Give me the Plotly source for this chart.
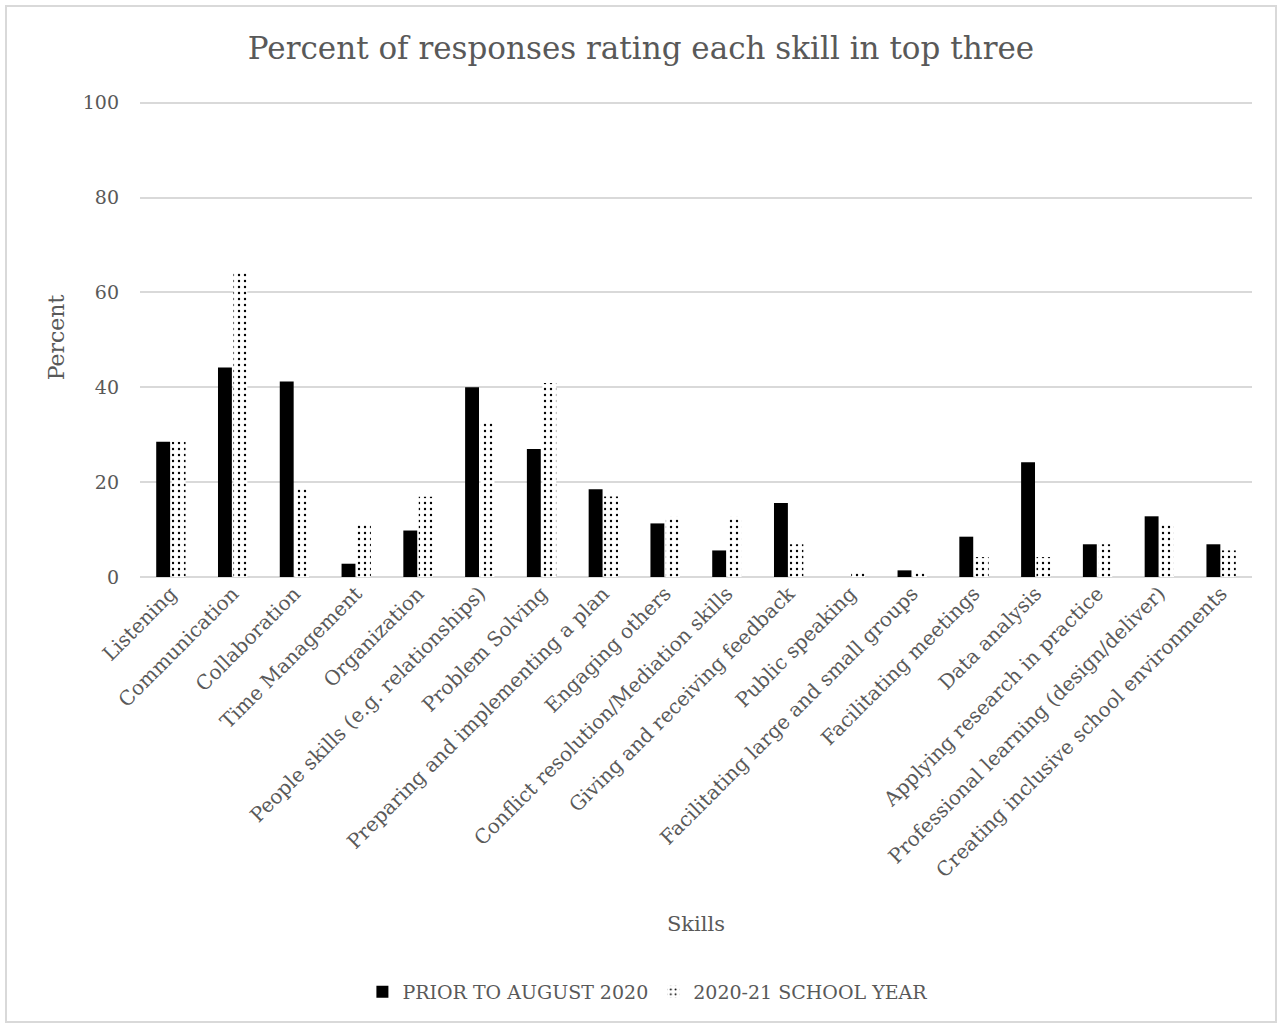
import plotly.graph_objects as go

skills = ["Listening", "Communication", "Collaboration", "Time Management", "Organization",
          "People skills (e.g. relationships)", "Problem Solving", "Preparing and implementing a plan",
          "Engaging others", "Conflict resolution/Mediation skills", "Giving and receiving feedback",
          "Public speaking", "Facilitating large and small groups", "Facilitating meetings",
          "Data analysis", "Applying research in practice", "Professional learning (design/deliver)",
          "Creating inclusive school environments"]
prior = [28.5, 44.2, 41.2, 2.8, 9.8, 40.0, 27.0, 18.5, 11.3, 5.6, 15.6, 0.0, 1.4, 8.5, 24.2, 6.9, 12.8, 6.9]
school_year = [28.5, 64.1, 18.6, 11.0, 16.9, 32.8, 40.9, 17.0, 12.7, 12.7, 6.9, 1.2, 1.2, 4.2, 4.2, 6.9, 11.0, 5.6]

FONT = "DejaVu Serif"
GREY = "#595959"

fig = go.Figure()
fig.add_trace(go.Bar(x=skills, y=prior, name="PRIOR TO AUGUST 2020",
                     marker=dict(color="black", line=dict(width=0))))
fig.add_trace(go.Bar(x=skills, y=school_year, name="2020-21 SCHOOL YEAR",
                     marker=dict(color="white", line=dict(width=0),
                                 pattern=dict(shape=".", fgcolor="black", bgcolor="white",
                                              size=6, solidity=0.12, fillmode="replace"))))

W, H = 1282, 1028
L, R, T, B = 140, 1252, 98, 577
def px(x): return (x - L) / (R - L)
def py(y): return (B - y) / (B - T)

fig.update_layout(
    width=W, height=H,
    margin=dict(l=L, r=W - R, t=T, b=H - B),
    paper_bgcolor="white", plot_bgcolor="white",
    font=dict(family=FONT, color=GREY, size=18),
    title=dict(text="Percent of responses rating each skill in top three",
               x=0.5, xref="container", xanchor="center", y=1 - 48 / H, yanchor="middle",
               font=dict(size=31, color=GREY, family=FONT)),
    barmode="group", bargap=0.5, bargroupgap=0.1,
    showlegend=True,
    legend=dict(orientation="h", xref="container", x=0.505, xanchor="center",
                yref="container", y=1 - 992 / H, yanchor="middle",
                font=dict(size=19, color=GREY), itemwidth=30, entrywidth=0),
    xaxis=dict(tickangle=-45, showgrid=False, showline=False, ticks="",
               tickfont=dict(size=20, color=GREY),
               title=dict(text="Skills", font=dict(size=21, color=GREY), standoff=35)),
    yaxis=dict(range=[0, 101], tickvals=[0, 20, 40, 60, 80, 100], showgrid=True,
               gridcolor="#d9d9d9", gridwidth=2,
               zeroline=True, zerolinecolor="#d9d9d9", zerolinewidth=2,
               tickfont=dict(size=19, color=GREY), ticks="", ticklabelstandoff=20,
               title=dict(text="Percent", font=dict(size=22, color=GREY), standoff=12)),
)
fig.add_shape(type="rect", xref="paper", yref="paper",
              x0=px(6), x1=px(1276), y0=py(1022), y1=py(6),
              line=dict(color="#d9d9d9", width=2), fillcolor="rgba(0,0,0,0)", layer="below")

fig.write_html("out.html")
